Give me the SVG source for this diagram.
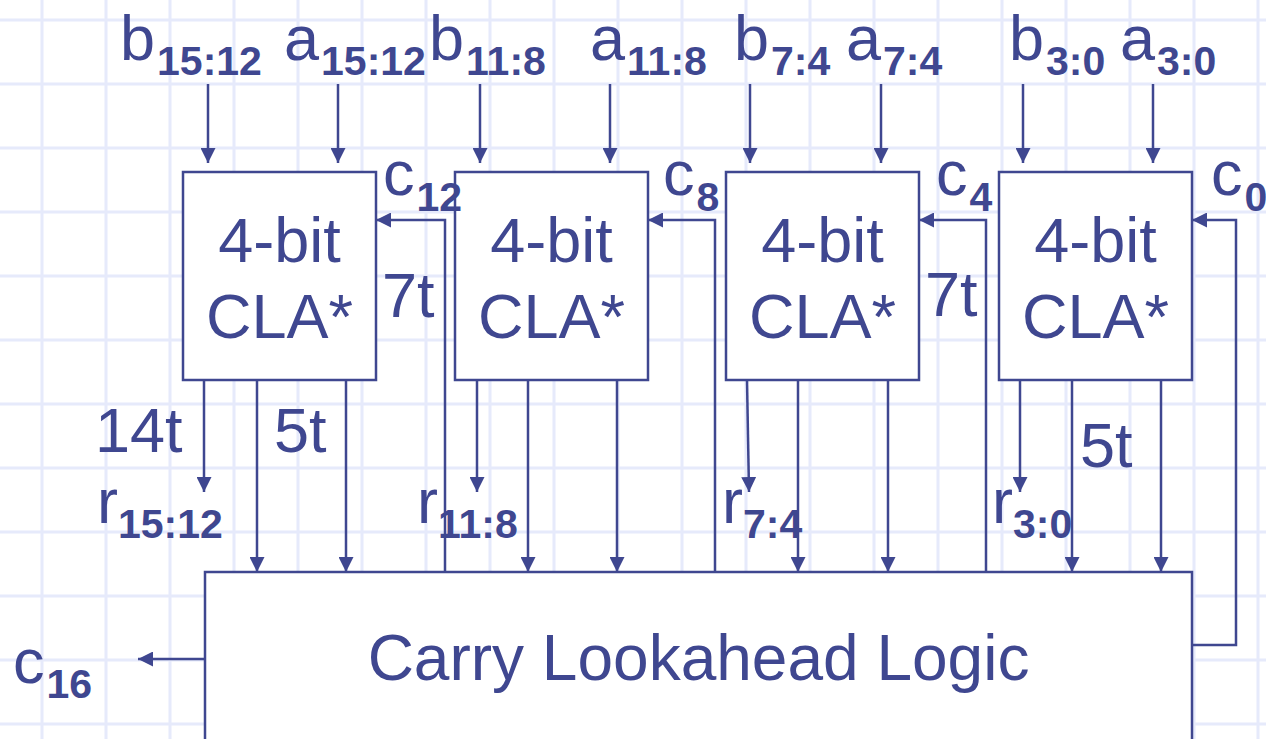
<svg xmlns="http://www.w3.org/2000/svg" width="1266" height="739" viewBox="0 0 1266 739">
<defs>
<style>
.grid line{stroke:#e6eafb;stroke-width:3}
.box{fill:#fff;stroke:#3f4790;stroke-width:2.5}
.a{fill:none;stroke:#3f4790;stroke-width:2.5;marker-end:url(#ah)}
text{font-family:"Liberation Sans",Arial,sans-serif;fill:#3f4790;font-size:63px}
.sub{font-size:41px;font-weight:bold}
.mid{text-anchor:middle}
.big{font-size:64px}
</style>
<marker id="ah" markerUnits="userSpaceOnUse" markerWidth="15" markerHeight="15" viewBox="0 0 15 15" refX="15" refY="7.5" orient="auto">
<path d="M0,0 L15,7.5 L0,15 z" fill="#3f4790"/>
</marker>
</defs>
<rect width="1266" height="739" fill="#fff"/>
<g class="grid">
<line x1="42" y1="0" x2="42" y2="739"/><line x1="106" y1="0" x2="106" y2="739"/><line x1="170" y1="0" x2="170" y2="739"/><line x1="234" y1="0" x2="234" y2="739"/><line x1="298" y1="0" x2="298" y2="739"/><line x1="362" y1="0" x2="362" y2="739"/><line x1="426" y1="0" x2="426" y2="739"/><line x1="490" y1="0" x2="490" y2="739"/><line x1="554" y1="0" x2="554" y2="739"/><line x1="618" y1="0" x2="618" y2="739"/><line x1="682" y1="0" x2="682" y2="739"/><line x1="746" y1="0" x2="746" y2="739"/><line x1="810" y1="0" x2="810" y2="739"/><line x1="874" y1="0" x2="874" y2="739"/><line x1="938" y1="0" x2="938" y2="739"/><line x1="1002" y1="0" x2="1002" y2="739"/><line x1="1066" y1="0" x2="1066" y2="739"/><line x1="1130" y1="0" x2="1130" y2="739"/><line x1="1194" y1="0" x2="1194" y2="739"/><line x1="1258" y1="0" x2="1258" y2="739"/>
<line x1="0" y1="20" x2="1266" y2="20"/><line x1="0" y1="84" x2="1266" y2="84"/><line x1="0" y1="148" x2="1266" y2="148"/><line x1="0" y1="212" x2="1266" y2="212"/><line x1="0" y1="276" x2="1266" y2="276"/><line x1="0" y1="340" x2="1266" y2="340"/><line x1="0" y1="404" x2="1266" y2="404"/><line x1="0" y1="468" x2="1266" y2="468"/><line x1="0" y1="532" x2="1266" y2="532"/><line x1="0" y1="596" x2="1266" y2="596"/><line x1="0" y1="660" x2="1266" y2="660"/><line x1="0" y1="724" x2="1266" y2="724"/>
</g>
<g id="connectors">
<path class="a" d="M208,84 V163"/><path class="a" d="M338,84 V163"/>
<path class="a" d="M480,84 V163"/><path class="a" d="M610,84 V163"/>
<path class="a" d="M750,84 V163"/><path class="a" d="M881,84 V163"/>
<path class="a" d="M1023,84 V163"/><path class="a" d="M1153,84 V163"/>
<path class="a" d="M445,572 V220 H376"/>
<path class="a" d="M715,572 V220 H648"/>
<path class="a" d="M986,572 V220 H919"/>
<path class="a" d="M1192,645 H1236 V220 H1192"/>
<path class="a" d="M210,659 H138"/>
<path class="a" d="M204,380 V492"/><path class="a" d="M257,380 V572"/><path class="a" d="M346,380 V572"/>
<path class="a" d="M477,380 V492"/><path class="a" d="M528,380 V572"/><path class="a" d="M617,380 V572"/>
<path class="a" d="M747,380 L749,492"/><path class="a" d="M798,380 V572"/><path class="a" d="M888,380 V572"/>
<path class="a" d="M1020,380 V492"/><path class="a" d="M1072,380 V572"/><path class="a" d="M1161,380 V572"/>
</g>
<g id="cla3">
<rect class="box" x="183" y="172" width="193" height="208"/>
<text class="mid" x="279.5" y="262">4-bit</text><text class="mid" x="279.5" y="338">CLA*</text>
</g>
<g id="cla2">
<rect class="box" x="455" y="172" width="193" height="208"/>
<text class="mid" x="551.5" y="262">4-bit</text><text class="mid" x="551.5" y="338">CLA*</text>
</g>
<g id="cla1">
<rect class="box" x="726" y="172" width="193" height="208"/>
<text class="mid" x="822.5" y="262">4-bit</text><text class="mid" x="822.5" y="338">CLA*</text>
</g>
<g id="cla0">
<rect class="box" x="999" y="172" width="193" height="208"/>
<text class="mid" x="1095.5" y="262">4-bit</text><text class="mid" x="1095.5" y="338">CLA*</text>
</g>
<g id="cll">
<rect class="box" x="205" y="572" width="987" height="200"/>
<text class="mid big" x="698.5" y="680">Carry Lookahead Logic</text>
</g>
<g id="labels">
<text x="120" y="60">b<tspan class="sub" dy="15" dx="2">15:12</tspan></text>
<text x="284" y="60">a<tspan class="sub" dy="15" dx="2">15:12</tspan></text>
<text x="429" y="60">b<tspan class="sub" dy="15" dx="2">11:8</tspan></text>
<text x="590" y="60">a<tspan class="sub" dy="15" dx="2">11:8</tspan></text>
<text x="734" y="60">b<tspan class="sub" dy="15" dx="2">7:4</tspan></text>
<text x="846" y="60">a<tspan class="sub" dy="15" dx="2">7:4</tspan></text>
<text x="1009" y="60">b<tspan class="sub" dy="15" dx="2">3:0</tspan></text>
<text x="1120" y="60">a<tspan class="sub" dy="15" dx="2">3:0</tspan></text>
<text x="383" y="195">c<tspan class="sub" dy="16" dx="2">12</tspan></text>
<text x="663" y="195">c<tspan class="sub" dy="16" dx="2">8</tspan></text>
<text x="936" y="195">c<tspan class="sub" dy="16" dx="2">4</tspan></text>
<text x="1211" y="195">c<tspan class="sub" dy="16" dx="2">0</tspan></text>
<text x="13" y="683">c<tspan class="sub" dy="15" dx="2">16</tspan></text>
<text x="382" y="317">7t</text>
<text x="925" y="316">7t</text>
<text x="95" y="452">14t</text>
<text x="274" y="452">5t</text>
<text x="1080" y="467">5t</text>
<text x="97" y="523">r<tspan class="sub" dy="15">15:12</tspan></text>
<text x="417" y="523">r<tspan class="sub" dy="15">11:8</tspan></text>
<text x="722" y="523">r<tspan class="sub" dy="15">7:4</tspan></text>
<text x="992" y="523">r<tspan class="sub" dy="15">3:0</tspan></text>
</g>
</svg>
